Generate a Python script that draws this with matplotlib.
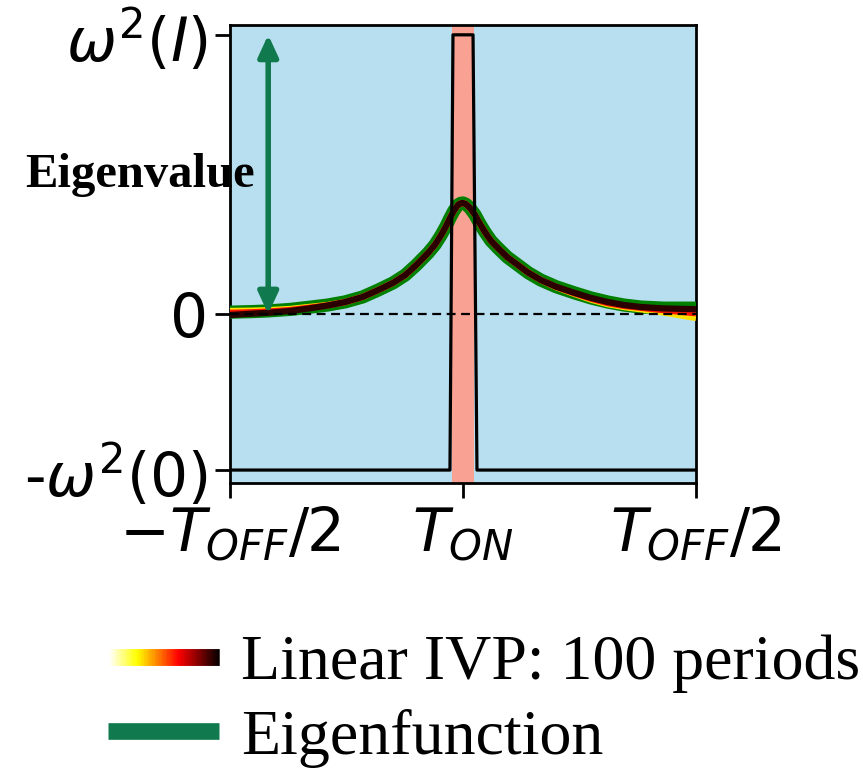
import numpy as np
import matplotlib.pyplot as plt
from matplotlib.collections import LineCollection
from matplotlib.legend_handler import HandlerBase
from matplotlib.lines import Line2D

# values (omega^2(0) = 1)
w2_I = 1.79
w2_0 = 1.0

# one period of the drive, T_ON at 0
drive_t = [-0.5, -0.028, -0.0215, 0.0215, 0.030, 0.5]
drive_w2 = [-w2_0, -w2_0, w2_I, w2_I, -w2_0, -w2_0]

t = [-0.5, -0.45, -0.418, -0.37, -0.326, -0.29, -0.253, -0.215, -0.182, -0.15, -0.124, -0.10, -0.075,
     -0.06, -0.047, -0.037, -0.028, -0.02, -0.011, -0.005, 0.0,
     0.006, 0.015, 0.026, 0.035, 0.047, 0.06, 0.075, 0.095, 0.118, 0.14, 0.167, 0.2, 0.24, 0.275,
     0.311, 0.345, 0.382, 0.43, 0.489, 0.5]

# eigenfunction
eig = [0.012, 0.016, 0.020, 0.030, 0.045, 0.058, 0.078, 0.110, 0.154, 0.200, 0.250, 0.315, 0.391,
       0.445, 0.506, 0.560, 0.615, 0.660, 0.699, 0.710, 0.712,
       0.705, 0.680, 0.635, 0.585, 0.526, 0.470, 0.423, 0.365, 0.314, 0.265, 0.218, 0.175, 0.135, 0.103,
       0.077, 0.058, 0.045, 0.038, 0.038, 0.038]

# linear IVP snapshots (early -> late)
ivp_early = [0.020, 0.022, 0.025, 0.033, 0.047, 0.058, 0.077, 0.110, 0.154, 0.200, 0.250, 0.315, 0.391,
             0.445, 0.506, 0.560, 0.615, 0.660, 0.699, 0.710, 0.712,
             0.705, 0.680, 0.635, 0.585, 0.526, 0.470, 0.423, 0.365, 0.314, 0.265, 0.218, 0.172, 0.128, 0.092,
             0.063, 0.045, 0.030, 0.010, -0.020, -0.025]
ivp_mid = [0.008, 0.012, 0.016, 0.026, 0.042, 0.056, 0.077, 0.110, 0.154, 0.200, 0.250, 0.315, 0.391,
           0.445, 0.506, 0.560, 0.615, 0.660, 0.699, 0.710, 0.712,
           0.705, 0.680, 0.635, 0.585, 0.526, 0.470, 0.423, 0.365, 0.314, 0.265, 0.218, 0.174, 0.132, 0.098,
           0.070, 0.052, 0.040, 0.025, 0.008, 0.005]
ivp_late = [-0.006, 0.003, 0.008, 0.020, 0.038, 0.055, 0.077, 0.110, 0.154, 0.200, 0.250, 0.315, 0.391,
            0.445, 0.506, 0.560, 0.615, 0.660, 0.699, 0.710, 0.712,
            0.705, 0.680, 0.635, 0.585, 0.526, 0.470, 0.423, 0.365, 0.314, 0.265, 0.218, 0.175, 0.135, 0.103,
            0.077, 0.058, 0.045, 0.036, 0.032, 0.031]

dark_green = '#107a4e'


class GradientHandler(HandlerBase):
    # colour-graded legend line for the IVP snapshots
    def create_artists(self, legend, orig_handle, xdescent, ydescent, width, height, fontsize, trans):
        n = 80
        xs = np.linspace(0, width, n + 1) - xdescent
        y = height / 2 - ydescent
        segs = [[(xs[i], y), (xs[min(i + 2, n)], y)] for i in range(n)]
        lc = LineCollection(segs, cmap='hot_r', transform=trans, linewidth=12, capstyle='butt')
        lc.set_array(np.linspace(0, 1, n))
        return [lc]


fig = plt.figure(figsize=(8.63, 7.69), dpi=100)
ax = fig.add_axes([230 / 863, 1 - 483 / 769, 466 / 863, 458 / 769])
ax.set_facecolor('#b7dff0')

ax.axvspan(-0.024, 0.024, color='#f9a193', lw=0, zorder=1)

ax.plot(t, eig, color='green', lw=9.5, zorder=3, solid_capstyle='butt', solid_joinstyle='round')
cmap = plt.get_cmap('hot_r')
for frac, ys in zip([0.3, 0.6, 0.95], [ivp_early, ivp_mid, ivp_late]):
    ax.plot(t, ys, color=cmap(frac), lw=4.5, zorder=4, solid_capstyle='butt', solid_joinstyle='round')

ax.plot(drive_t, drive_w2, color='black', lw=2.3, zorder=5)
ax.axhline(0, color='black', lw=1.6, ls=(0, (4, 2.5)), zorder=6)

ax.annotate('', xy=(-0.418, 0.0), xytext=(-0.418, w2_I),
            arrowprops=dict(arrowstyle='<|-|>,head_length=1.3,head_width=0.6', color=dark_green, lw=4,
                            shrinkA=0, shrinkB=0), zorder=7)
fig.text(25 / 863, 1 - 175 / 769, 'Eigenvalue', fontsize=35, fontweight='bold',
         family='Liberation Serif', va='center', ha='left', zorder=8)

ax.set_xlim(-0.5, 0.5)
ax.set_ylim(-1.083, 1.853)
ax.set_xticks([-0.5, 0, 0.5])
ax.set_xticklabels([r'$-T_{OFF}/2$', r'$T_{ON}$', r'$T_{OFF}/2$'])
ax.set_yticks([-w2_0, 0, w2_I])
ax.set_yticklabels([r'-$\omega^2(0)$', '0', r'$\omega^2(I)$'])
ax.tick_params(labelsize=43, length=11, width=2, pad=5)
for s in ax.spines.values():
    s.set_linewidth(2)

handles = [Line2D([], []), Line2D([], [], color=dark_green, lw=12, solid_capstyle='butt')]
fig.legend(handles, ['Linear IVP: 100 periods', 'Eigenfunction'],
           handler_map={handles[0]: GradientHandler()},
           loc='center left', bbox_to_anchor=(108 / 863, 1 - 701 / 769),
           frameon=False, borderpad=0, borderaxespad=0, handlelength=1.73, handletextpad=0.35,
           labelspacing=0.25, prop={'family': 'Liberation Serif', 'size': 46})

fig.savefig('out.png', dpi=100)
